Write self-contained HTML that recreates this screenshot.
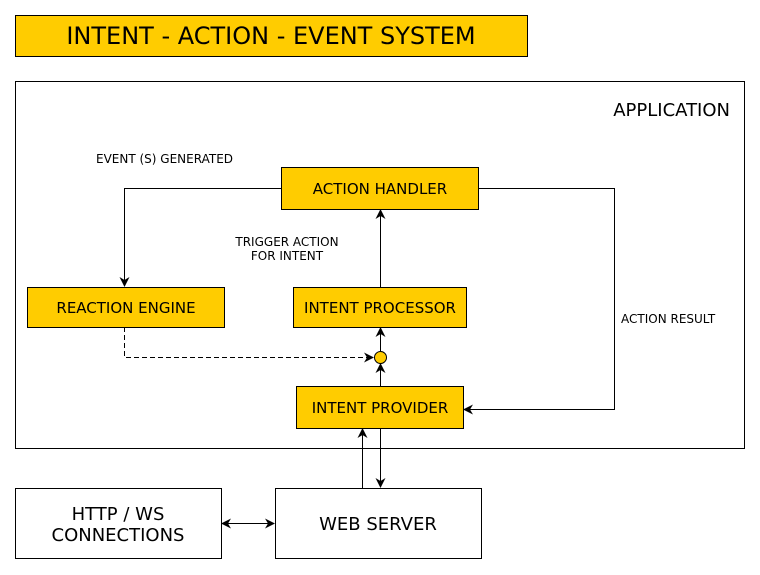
<!DOCTYPE html>
<html><head><meta charset="utf-8"><style>
html,body{margin:0;padding:0;background:#fff;}
svg{display:block;font-family:"DejaVu Sans","Liberation Sans",sans-serif;}
</style></head><body>
<svg width="760" height="575" viewBox="0 0 760 575" xmlns="http://www.w3.org/2000/svg">
<defs>
<marker id="a" viewBox="0 0 10 10" refX="9" refY="5" markerWidth="10" markerHeight="10" markerUnits="userSpaceOnUse" orient="auto">
<path d="M0,0 L10,5 L0,10 L3,5 Z" fill="#000"/></marker>
<marker id="s" viewBox="0 0 10 10" refX="1" refY="5" markerWidth="10" markerHeight="10" markerUnits="userSpaceOnUse" orient="auto">
<path d="M10,0 L0,5 L10,10 L7,5 Z" fill="#000"/></marker>
</defs>
<rect x="15.5" y="15.5" width="512" height="41" fill="#FFCC00" stroke="#000"/>
<text x="271" y="44" font-size="24" text-anchor="middle">INTENT - ACTION - EVENT SYSTEM</text>
<rect x="15.5" y="81.5" width="729" height="367" fill="#fff" stroke="#000"/>
<text x="730" y="116" font-size="18" text-anchor="end">APPLICATION</text>
<g fill="none" stroke="#000" stroke-width="1">
<polyline points="281,188.5 124.5,188.5 124.5,286" marker-end="url(#a)"/>
<polyline points="478,188.5 614.5,188.5 614.5,409.5 464,409.5" marker-end="url(#a)"/>
<line x1="380.5" y1="287" x2="380.5" y2="210" marker-end="url(#a)"/>
<line x1="380.5" y1="351" x2="380.5" y2="328" marker-end="url(#a)"/>
<line x1="380.5" y1="386" x2="380.5" y2="364" marker-end="url(#a)"/>
<polyline points="124.5,327 124.5,357.5 373,357.5" stroke-dasharray="5,3" marker-end="url(#a)"/>
<line x1="362.5" y1="488" x2="362.5" y2="429" marker-end="url(#a)"/>
<line x1="380.5" y1="428" x2="380.5" y2="487" marker-end="url(#a)"/>
<line x1="222" y1="523.5" x2="274" y2="523.5" marker-start="url(#s)" marker-end="url(#a)"/>
</g>
<circle cx="380.5" cy="357.5" r="6" fill="#FFCC00" stroke="#000"/>
<g fill="#FFCC00" stroke="#000">
<rect x="281.5" y="167.5" width="197" height="42"/>
<rect x="27.5" y="287.5" width="197" height="40"/>
<rect x="293.5" y="287.5" width="173" height="40"/>
<rect x="296.5" y="386.5" width="167" height="42"/>
</g>
<g fill="#fff" stroke="#000">
<rect x="15.5" y="488.5" width="206" height="70"/>
<rect x="275.5" y="488.5" width="206" height="70"/>
</g>
<g font-size="15" text-anchor="middle">
<text x="380" y="194">ACTION HANDLER</text>
<text x="126" y="313">REACTION ENGINE</text>
<text x="380" y="313">INTENT PROCESSOR</text>
<text x="380" y="413">INTENT PROVIDER</text>
</g>
<g font-size="18" text-anchor="middle">
<text x="118" y="520">HTTP / WS</text>
<text x="118" y="541">CONNECTIONS</text>
<text x="378" y="530">WEB SERVER</text>
</g>
<g font-size="12">
<text x="96" y="163">EVENT (S) GENERATED</text>
<text x="287" y="246" text-anchor="middle">TRIGGER ACTION</text>
<text x="287" y="260" text-anchor="middle">FOR INTENT</text>
<text x="621" y="323">ACTION RESULT</text>
</g>
</svg>
</body></html>
